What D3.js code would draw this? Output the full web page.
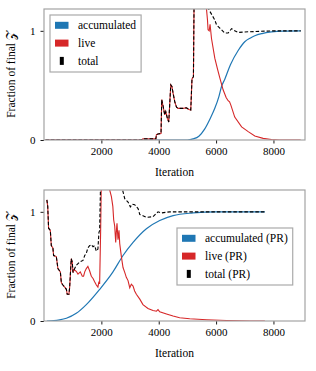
<!DOCTYPE html>
<meta charset="utf-8">
<style>
body { margin: 0; background: #fff; }
svg text { font-family: "Liberation Serif", "Times New Roman", Times, "DejaVu Serif", serif; }
</style>
<svg id="chart" width="316" height="371"></svg>
<script src="https://cdn.jsdelivr.net/npm/d3@7"></script>
<script>
// [iteration, fraction of final Z]
var topAccumulated = [[50,0],[5000,0],[5200,0.01],[5400,0.035],[5600,0.1],[5800,0.2],[5955,0.29],[6100,0.4],
  [6190,0.49],[6300,0.555],[6500,0.69],[6770,0.82],[7000,0.9],[7200,0.935],[7350,0.955],[7600,0.975],
  [7930,0.99],[8300,0.998],[8950,1.0]];
var topLive = [[50,0],[3400,0],[3450,0.01],[3900,0.01],[3920,0.05],[3975,0.055],[4080,0.06],[4105,0.37],
  [4160,0.3],[4210,0.23],[4245,0.26],[4300,0.2],[4350,0.165],[4420,0.505],[4460,0.49],[4500,0.43],
  [4560,0.35],[4620,0.3],[4675,0.29],[4850,0.29],[4965,0.295],[5050,0.28],[5117,0.275],[5160,0.56],
  [5210,0.58],[5240,1.5],[5400,2.2],[5600,2.0],[5665,1.2],[5700,1.1],[5720,1.01],[5760,1.0],[5790,1.06],
  [5840,0.93],[5955,0.75],[6050,0.65],[6130,0.57],[6245,0.46],[6350,0.39],[6420,0.36],[6470,0.35],
  [6515,0.32],[6650,0.21],[6890,0.12],[7120,0.077],[7350,0.037],[7640,0.015],[7930,0.005],[8200,0],[8950,0]];
var topTotal = [[50,0],[3400,0],[3450,0.01],[3900,0.01],[3920,0.05],[3975,0.055],[4080,0.06],[4105,0.37],
  [4160,0.3],[4210,0.23],[4245,0.26],[4300,0.2],[4350,0.165],[4420,0.505],[4460,0.49],[4500,0.43],
  [4560,0.35],[4620,0.3],[4675,0.29],[4850,0.29],[4965,0.295],[5050,0.28],[5117,0.275],[5160,0.56],
  [5210,0.58],[5240,1.5],[5400,2.3],[5650,2.0],[5700,1.22],[5780,1.18],[5955,1.1],[6015,1.055],[6130,1.025],
  [6300,0.98],[6420,0.98],[6540,1.02],[6650,1.0],[6770,0.985],[7000,0.99],[7500,0.995],[8000,1.0],[8950,1.0]];

var botAccumulated = [[100,0],[350,0.003],[545,0.01],[780,0.025],[1125,0.07],[1475,0.15],[1940,0.29],
  [2405,0.45],[2755,0.6],[3105,0.72],[3570,0.845],[4035,0.92],[4500,0.965],[5200,0.99],[6010,1.0],[7700,1.0]];
var botLive = [[100,1.11],[130,1.05],[160,0.85],[220,0.83],[255,0.69],[310,0.67],[335,0.6],[430,0.59],
  [485,0.48],[570,0.45],[605,0.35],[660,0.33],[720,0.31],[780,0.29],[810,0.245],[870,0.245],[895,0.31],
  [920,0.43],[950,0.57],[985,0.54],[1010,0.445],[1050,0.47],[1125,0.455],[1185,0.43],[1265,0.45],
  [1335,0.41],[1380,0.41],[1420,0.45],[1475,0.48],[1530,0.5],[1590,0.46],[1650,0.41],[1710,0.39],
  [1765,0.36],[1825,0.33],[1880,0.31],[1915,0.36],[1940,0.34],[1975,0.83],[2010,1.5],[2200,2.0],
  [2290,1.2],[2350,1.14],[2400,1.05],[2430,0.925],[2465,0.87],[2500,0.72],[2525,0.83],[2545,0.895],
  [2580,0.745],[2615,0.83],[2640,0.71],[2700,0.585],[2755,0.49],[2815,0.445],[2870,0.4],[2930,0.37],
  [2990,0.305],[3045,0.337],[3105,0.32],[3160,0.275],[3220,0.245],[3340,0.2],[3450,0.15],[3625,0.115],
  [3800,0.096],[3920,0.09],[3975,0.105],[4035,0.085],[4270,0.065],[4500,0.045],[4730,0.03],[5080,0.02],
  [5665,0.012],[6360,0.005],[7180,0],[7700,0]];
var botTotal = [[100,1.11],[130,1.05],[160,0.85],[220,0.83],[255,0.69],[310,0.67],[335,0.6],[430,0.59],
  [485,0.48],[570,0.45],[605,0.35],[660,0.33],[720,0.31],[780,0.29],[810,0.245],[870,0.245],[895,0.31],
  [920,0.43],[950,0.57],[985,0.54],[1010,0.445],[1050,0.47],[1125,0.51],[1245,0.54],[1360,0.555],
  [1420,0.6],[1475,0.62],[1530,0.67],[1590,0.69],[1650,0.7],[1710,0.68],[1765,0.69],[1825,0.64],
  [1880,0.66],[1915,0.81],[1940,0.83],[1990,1.5],[2400,2.2],[2740,1.2],[2815,1.12],[2930,1.09],
  [3010,1.045],[3080,1.07],[3160,1.065],[3280,1.03],[3340,0.975],[3450,0.965],[3570,0.95],[3800,0.955],
  [3975,1.0],[4095,0.99],[4385,1.0],[7700,1.0]];

var xTicks = [2000, 4000, 6000, 8000];
var yTicks = [0, 1];
var topLabels = ["accumulated", "live", "total"];
var botLabels = ["accumulated (PR)", "live (PR)", "total (PR)"];
var colors = ["#1f77b4", "#d62728", "#000"];

var serif = "'Liberation Serif', 'Times New Roman', Times, 'DejaVu Serif', serif";
var svg = d3.select("#chart");
var left = 44, right = 305;

var x = d3.scaleLinear().domain([0, 9100]).range([left, right]);

function drawPanel(id, top, bottom, series, labels, legendPos) {
  var y = d3.scaleLinear().domain([0, 1.2]).range([bottom, top]);
  var g = svg.append("g");

  g.append("clipPath").attr("id", "clip" + id)
    .append("rect").attr("x", left).attr("y", top).attr("width", right - left).attr("height", bottom - top);

  var line = d3.line().x(function(d){ return x(d[0]); }).y(function(d){ return y(d[1]); });
  var plot = g.append("g").attr("clip-path", "url(#clip" + id + ")");

  plot.append("path").datum(series[0])
    .attr("d", line.curve(d3.curveMonotoneX))
    .attr("fill", "none").attr("stroke", colors[0]).attr("stroke-width", 1.2);
  line.curve(d3.curveLinear);
  plot.append("path").datum(series[1])
    .attr("d", line)
    .attr("fill", "none").attr("stroke", colors[1]).attr("stroke-width", 1.1);
  plot.append("path").datum(series[2])
    .attr("d", line)
    .attr("fill", "none").attr("stroke", colors[2]).attr("stroke-width", 1.1)
    .attr("stroke-dasharray", "3.5,2");

  // axes
  var xa = g.append("g").attr("transform", "translate(0," + bottom + ")")
    .call(d3.axisBottom(x).tickValues(xTicks).tickSize(3.5).tickPadding(4).tickFormat(d3.format("d")));
  var ya = g.append("g").attr("transform", "translate(" + left + ",0)")
    .call(d3.axisLeft(y).tickValues(yTicks).tickSize(3.5).tickPadding(5).tickFormat(d3.format("d")));
  [xa, ya].forEach(function(a){
    a.attr("font-family", serif).attr("font-size", 11);
    a.select(".domain").remove();
    a.selectAll("text").attr("fill", "#000");
    a.selectAll("line").attr("stroke", "#000").attr("stroke-width", 0.9);
  });

  g.append("rect").attr("x", left).attr("y", top).attr("width", right - left).attr("height", bottom - top)
    .attr("fill", "none").attr("stroke", "#a3a3a3").attr("stroke-width", 1.2);

  g.append("text")
    .attr("transform", "translate(15," + ((top + bottom) / 2) + ") rotate(-90)")
    .attr("text-anchor", "middle").attr("font-size", 11.5)
    .text("Fraction of final ")
    .append("tspan").text("𝒵");

  g.append("text").attr("x", (left + right) / 2).attr("y", bottom + 36)
    .attr("text-anchor", "middle").attr("font-size", 11.5).text("Iteration");

  // legend
  var lg = g.append("g").attr("transform", "translate(" + legendPos[0] + "," + legendPos[1] + ")");
  var box = lg.append("rect").attr("x", 0).attr("y", 0).attr("height", 57)
    .attr("fill", "#fff").attr("fill-opacity", 0.85).attr("stroke", "#aaa").attr("stroke-width", 1.2);
  var maxW = 0;
  labels.forEach(function(lab, i) {
    var cy = 10.3 + i * 17.8;
    if (i < 2) {
      lg.append("rect").attr("x", 5).attr("y", cy - 3.5).attr("width", 13.5).attr("height", 7).attr("fill", colors[i]);
    } else {
      lg.append("rect").attr("x", 9.8).attr("y", cy - 4).attr("width", 4).attr("height", 8).attr("fill", "#000");
    }
    var t = lg.append("text").attr("x", 28).attr("y", cy + 4).attr("font-size", 11.5).text(lab);
    maxW = Math.max(maxW, t.node().getComputedTextLength());
  });
  box.attr("width", 28 + maxW + 5);
}

drawPanel("a", 9, 140, [topAccumulated, topLive, topTotal], topLabels, [50, 15]);
drawPanel("b", 190, 321, [botAccumulated, botLive, botTotal], botLabels, [177, 228]);
</script>
